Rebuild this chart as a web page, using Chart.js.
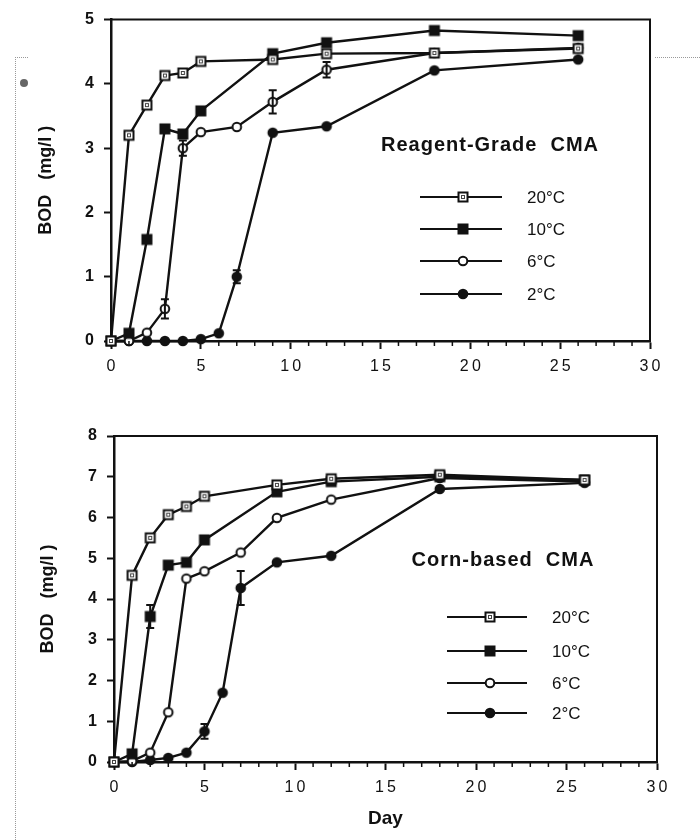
<!DOCTYPE html>
<html>
<head>
<meta charset="utf-8">
<script src="https://cdn.jsdelivr.net/npm/chart.js@4/dist/chart.umd.min.js"></script>
<style>
  body { margin: 0; background: #fff; width: 700px; height: 840px; position: relative; overflow: hidden; }
  canvas { position: absolute; left: 0; }
  #chartTop { top: 0; }
  #chartBottom { top: 400px; }
  .dots { position: absolute; border: 0 dotted #999; }
</style>
</head>
<body>
<div class="dots" style="left:15px;top:57px;width:12px;height:790px;border-left-width:1px;border-top-width:1px"></div>
<div class="dots" style="left:655px;top:57px;width:45px;height:0;border-top-width:1px"></div>
<div style="position:absolute;left:20px;top:79px;width:8px;height:8px;border-radius:50%;background:#666"></div>
<canvas id="chartTop" width="700" height="390"></canvas>
<canvas id="chartBottom" width="700" height="440"></canvas>
<script>
// tick labels
const xTicks = [0, 5, 10, 15, 20, 25, 30];
const yTicksTop = [0, 1, 2, 3, 4, 5];
const yTicksBottom = [0, 1, 2, 3, 4, 5, 6, 7, 8];
const seriesLabels = ["20°C", "10°C", "6°C", "2°C"];

// Reagent-Grade CMA
const rgDays20 = [0, 1, 2, 3, 4, 5, 9, 12, 18, 26];
const rgBod20 = [0, 3.2, 3.67, 4.13, 4.17, 4.35, 4.38, 4.47, 4.48, 4.55];
const rgErr20 = [];
const rgDays10 = [0, 1, 2, 3, 4, 5, 9, 12, 18, 26];
const rgBod10 = [0, 0.12, 1.58, 3.3, 3.22, 3.58, 4.47, 4.64, 4.83, 4.75];
const rgErr10 = [];
const rgDays6 = [0, 1, 2, 3, 4, 5, 7, 9, 12, 18, 26];
const rgBod6 = [0, 0, 0.13, 0.5, 3.0, 3.25, 3.33, 3.72, 4.22, 4.48, 4.56];
const rgErr6 = [null, null, null, 0.15, 0.12, null, null, 0.18, 0.12, null, null];
const rgDays2 = [0, 1, 2, 3, 4, 5, 6, 7, 9, 12, 18, 26];
const rgBod2 = [0, 0, 0, 0, 0, 0.03, 0.12, 1.0, 3.24, 3.34, 4.21, 4.38];
const rgErr2 = [null, null, null, null, null, null, null, 0.1, null, null, null, null];

// Corn-based CMA
const cbDays20 = [0, 1, 2, 3, 4, 5, 9, 12, 18, 26];
const cbBod20 = [0, 4.58, 5.5, 6.07, 6.27, 6.52, 6.8, 6.95, 7.05, 6.92];
const cbErr20 = [];
const cbDays10 = [0, 1, 2, 3, 4, 5, 9, 12, 18, 26];
const cbBod10 = [0, 0.2, 3.57, 4.83, 4.9, 5.45, 6.63, 6.88, 7.0, 6.92];
const cbErr10 = [null, null, 0.28, null, null, null, null, null, null, null];
const cbDays6 = [0, 1, 2, 3, 4, 5, 7, 9, 12, 18, 26];
const cbBod6 = [0, 0.02, 0.23, 1.22, 4.5, 4.68, 5.14, 5.99, 6.44, 6.97, 6.88];
const cbErr6 = [];
const cbDays2 = [0, 1, 2, 3, 4, 5, 6, 7, 9, 12, 18, 26];
const cbBod2 = [0, 0, 0.05, 0.1, 0.23, 0.75, 1.7, 4.27, 4.9, 5.06, 6.7, 6.85];
const cbErr2 = [null, null, null, null, null, 0.18, null, 0.42, null, null, null, null];

Chart.defaults.font.family = '"Liberation Sans", Arial, sans-serif';
const ink = "#111";

// marker pictures for the four temperatures
function marker(kind) {
  const c = document.createElement("canvas");
  c.width = 14; c.height = 14;
  const g = c.getContext("2d");
  g.strokeStyle = ink; g.fillStyle = ink; g.lineWidth = 2;
  if (kind == "sqOpen") {
    g.fillStyle = "#fff"; g.fillRect(2, 2, 10, 10);
    g.strokeRect(2.5, 2.5, 9, 9);
    g.lineWidth = 1; g.strokeStyle = "#444"; g.strokeRect(5.5, 5.5, 3, 3);
  } else if (kind == "sqFill") {
    g.fillRect(1.5, 1.5, 11, 11);
  } else if (kind == "cirOpen") {
    g.beginPath(); g.arc(7, 7, 4.3, 0, Math.PI * 2);
    g.fillStyle = "#fff"; g.fill(); g.stroke();
  } else {
    g.beginPath(); g.arc(7, 7, 5.3, 0, Math.PI * 2); g.fill();
  }
  return c;
}
const markers = [marker("sqOpen"), marker("sqFill"), marker("cirOpen"), marker("cirFill")];

function series(i, days, vals, errs) {
  return {
    label: seriesLabels[i],
    data: days.map((d, k) => ({ x: d, y: vals[k] })),
    errs: errs,
    borderColor: ink,
    borderWidth: 2.4,
    pointStyle: markers[i],
    pointRadius: 6,
    clip: false,
    fill: false,
    tension: 0
  };
}

const boxPlugin = {
  id: "box",
  afterDatasetsDraw(chart) {
    const { ctx, chartArea: a } = chart;
    const y = chart.scales.y, x = chart.scales.x;
    ctx.save();
    ctx.strokeStyle = ink;
    // frame top and right
    ctx.lineWidth = 2;
    ctx.beginPath();
    ctx.moveTo(a.left, a.top); ctx.lineTo(a.right, a.top); ctx.lineTo(a.right, a.bottom);
    ctx.stroke();
    // minor ticks every day
    ctx.lineWidth = 1.5;
    for (let d = 0; d <= 30; d++) {
      if (d % 5 == 0) continue;
      const px = x.getPixelForValue(d);
      ctx.beginPath(); ctx.moveTo(px, a.bottom); ctx.lineTo(px, a.bottom + 5); ctx.stroke();
    }
    // error bars
    ctx.lineWidth = 2;
    chart.data.datasets.forEach((ds) => {
      ds.data.forEach((p, k) => {
        const e = ds.errs[k];
        if (!e) return;
        const px = x.getPixelForValue(p.x);
        const y1 = y.getPixelForValue(p.y - e), y2 = y.getPixelForValue(p.y + e);
        ctx.beginPath();
        ctx.moveTo(px, y1); ctx.lineTo(px, y2);
        ctx.moveTo(px - 4, y1); ctx.lineTo(px + 4, y1);
        ctx.moveTo(px - 4, y2); ctx.lineTo(px + 4, y2);
        ctx.stroke();
      });
    });
    ctx.restore();
  },
  afterDraw(chart, args, opts) {
    const ctx = chart.ctx;
    ctx.save();
    ctx.fillStyle = ink;
    ctx.strokeStyle = ink;
    ctx.textBaseline = "middle";
    ctx.textAlign = "center";
    ctx.letterSpacing = "1px";
    ctx.font = 'bold 20px "Liberation Sans", Arial, sans-serif';
    ctx.fillText(opts.title, opts.titleX, opts.titleY);
    ctx.letterSpacing = "0px";
    ctx.textAlign = "left";
    ctx.font = '17px "Liberation Sans", Arial, sans-serif';
    ctx.lineWidth = 2;
    chart.data.datasets.forEach((ds, i) => {
      const ry = opts.rows[i];
      ctx.beginPath(); ctx.moveTo(opts.lineFrom, ry); ctx.lineTo(opts.lineTo, ry); ctx.stroke();
      ctx.drawImage(ds.pointStyle, opts.markX - 7, ry - 7);
      ctx.fillText(ds.label, opts.textX, ry + 1);
    });
    ctx.restore();
  }
};

function makeChart(id, sets, yTicks, yMax, pad, yWidth, xHeight, yTitlePad, showDay, legend) {
  return new Chart(document.getElementById(id), {
    type: "line",
    data: { datasets: sets },
    plugins: [boxPlugin],
    options: {
      responsive: false,
      animation: false,
      events: [],
      layout: { padding: pad },
      plugins: { legend: { display: false }, tooltip: { enabled: false }, box: legend },
      scales: {
        x: {
          type: "linear", min: 0, max: 30,
          afterBuildTicks: (s) => { s.ticks = xTicks.map((v) => ({ value: v })); },
          afterFit: (s) => { s.height = xHeight; },
          ticks: {
            callback: (v) => String(v).split("").join("\u2009"),
            font: { size: 16 }, color: ink, padding: 8, maxRotation: 0, autoSkip: false
          },
          grid: { drawOnChartArea: false, tickLength: 8, tickWidth: 2, tickColor: ink },
          border: { display: true, width: 2.5, color: ink },
          title: { display: showDay, text: "Day", font: { size: 19, weight: "bold" }, color: ink, padding: { top: 0, bottom: 4 } }
        },
        y: {
          min: 0, max: yMax,
          afterBuildTicks: (s) => { s.ticks = yTicks.map((v) => ({ value: v })); },
          afterFit: (s) => { s.width = yWidth; },
          ticks: { font: { size: 16, weight: "bold" }, color: ink, padding: 10 },
          grid: { drawOnChartArea: false, tickLength: 7, tickWidth: 2, tickColor: ink },
          border: { display: true, width: 2.5, color: ink },
          title: { display: true, text: "BOD   (mg/l )", font: { size: 18, weight: "bold" }, color: ink, padding: { top: yTitlePad } }
        }
      }
    }
  });
}

makeChart("chartTop", [
  series(0, rgDays20, rgBod20, rgErr20),
  series(1, rgDays10, rgBod10, rgErr10),
  series(2, rgDays6, rgBod6, rgErr6),
  series(3, rgDays2, rgBod2, rgErr2)
], yTicksTop, 5, { top: 19, right: 50, bottom: 9, left: 0 }, 111, 40, 35, false, {
  title: "Reagent-Grade  CMA", titleX: 490, titleY: 145,
  rows: [197, 229, 261, 294], lineFrom: 420, lineTo: 502, markX: 463, textX: 527
});

makeChart("chartBottom", [
  series(0, cbDays20, cbBod20, cbErr20),
  series(1, cbDays10, cbBod10, cbErr10),
  series(2, cbDays6, cbBod6, cbErr6),
  series(3, cbDays2, cbBod2, cbErr2)
], yTicksBottom, 8, { top: 36, right: 43, bottom: 6, left: 0 }, 114, 72, 37, true, {
  title: "Corn-based  CMA", titleX: 503, titleY: 160,
  rows: [217, 251, 283, 313], lineFrom: 447, lineTo: 527, markX: 490, textX: 552
});
</script>
</body>
</html>
